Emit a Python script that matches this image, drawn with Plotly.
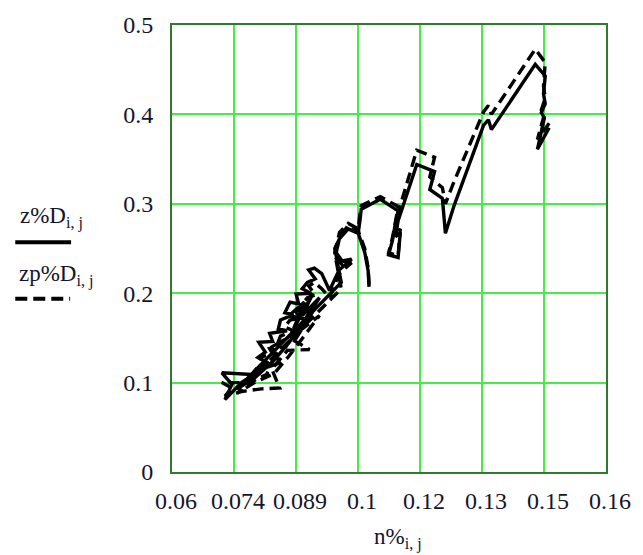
import plotly.graph_objects as go

# n%_{i,j} values shared by both series
n_pct = [
    0.1054, 0.1052, 0.1044, 0.1029, 0.1006, 0.0986, 0.0976, 0.0992, 0.1014, 0.0985,
    0.0963, 0.0945, 0.0928, 0.0915, 0.0930, 0.0912, 0.0900, 0.0920, 0.0886, 0.0892,
    0.0872, 0.0860, 0.0880, 0.0850, 0.0845, 0.0865, 0.0825, 0.0832, 0.0800, 0.0815,
    0.0798, 0.0822, 0.0795, 0.0783, 0.0715, 0.0738, 0.0722,
    0.0760, 0.0806, 0.0848, 0.0830, 0.0866, 0.0917, 0.0870, 0.0905, 0.0880, 0.0925,
    0.0900, 0.0940, 0.0870, 0.0835, 0.0790, 0.0750, 0.0990, 0.0975, 0.0986, 0.1006,
    0.1029, 0.1033, 0.1036, 0.1080, 0.1121, 0.1115, 0.1108, 0.1099, 0.1121, 0.1126,
    0.1115, 0.1121, 0.1164, 0.1205, 0.1194, 0.1223, 0.1230, 0.1250, 0.1318, 0.1329,
    0.1336, 0.1437, 0.1460, 0.1456, 0.1460, 0.1451, 0.1458, 0.1442, 0.1469,
]

# z%D_{i,j}
z_pct_D = [
    0.207, 0.225, 0.246, 0.267, 0.272, 0.261, 0.247, 0.236, 0.238, 0.226,
    0.203, 0.222, 0.228, 0.226, 0.216, 0.212, 0.205, 0.200, 0.199, 0.188,
    0.190, 0.178, 0.176, 0.170, 0.160, 0.158, 0.155, 0.146, 0.145, 0.134,
    0.128, 0.122, 0.116, 0.109, 0.111, 0.098, 0.081,
    0.100, 0.115, 0.122, 0.140, 0.150, 0.170, 0.175, 0.190, 0.160, 0.200,
    0.175, 0.195, 0.145, 0.125, 0.105, 0.093, 0.212, 0.250, 0.261, 0.272,
    0.267, 0.281, 0.294, 0.305, 0.292, 0.279, 0.259, 0.243, 0.240, 0.268,
    0.263, 0.281, 0.344, 0.336, 0.316, 0.306, 0.267, 0.298, 0.388, 0.394,
    0.383, 0.456, 0.443, 0.423, 0.412, 0.402, 0.396, 0.361, 0.385,
]

# zp%D_{i,j}
zp_pct_D = [
    0.210, 0.228, 0.250, 0.270, 0.276, 0.262, 0.240, 0.232, 0.234, 0.222,
    0.195, 0.205, 0.212, 0.208, 0.198, 0.195, 0.188, 0.182, 0.180, 0.172,
    0.170, 0.162, 0.158, 0.152, 0.146, 0.140, 0.138, 0.132, 0.128, 0.122,
    0.115, 0.110, 0.104, 0.100, 0.100, 0.094, 0.085,
    0.090, 0.093, 0.094, 0.115, 0.136, 0.137, 0.150, 0.170, 0.145, 0.180,
    0.160, 0.175, 0.130, 0.110, 0.100, 0.088, 0.205, 0.245, 0.268, 0.278,
    0.272, 0.288, 0.298, 0.308, 0.297, 0.280, 0.262, 0.245, 0.242, 0.272,
    0.266, 0.290, 0.360, 0.352, 0.330, 0.318, 0.300, 0.325, 0.403, 0.410,
    0.400, 0.473, 0.458, 0.432, 0.418, 0.405, 0.400, 0.372, 0.390,
]

x_tick_vals = [0.06 + k * 0.1 / 7 for k in range(8)]
x_tick_text = ["0.06", "0.074", "0.089", "0.1", "0.12", "0.13", "0.15", "0.16"]
y_tick_vals = [0.0, 0.1, 0.2, 0.3, 0.4, 0.5]
y_tick_text = ["0", "0.1", "0.2", "0.3", "0.4", "0.5"]

W, H = 643, 555
ML, MR, MT, MB = 172, 28, 15, 83
PW, PH = W - ML - MR, H - MT - MB

SERIF = "Liberation Serif"
TXT = "#15152a"
GRID = "#44ee44"
FRAME = "#2f7a2f"


def px(xp):
    return (xp - ML) / PW


def py(yp):
    return (H - MB - yp) / PH


fig = go.Figure()
fig.add_trace(go.Scatter(
    x=n_pct, y=zp_pct_D, mode="lines", name="zp%D",
    line=dict(color="black", width=3.4, dash="11px,6px"),
    showlegend=False,
))
fig.add_trace(go.Scatter(
    x=n_pct, y=z_pct_D, mode="lines", name="z%D",
    line=dict(color="black", width=3.4),
    showlegend=False,
))

fig.update_xaxes(
    range=[0.06, 0.16], tickvals=x_tick_vals, ticktext=x_tick_text,
    showgrid=True, gridcolor=GRID, gridwidth=2,
    showline=True, linecolor=FRAME, linewidth=2, mirror=True,
    zeroline=False, ticks="", ticklabelstandoff=6, ticklabelshift=4,
    tickfont=dict(family=SERIF, size=24, color=TXT),
)
fig.update_yaxes(
    range=[0, 0.5], tickvals=y_tick_vals, ticktext=y_tick_text,
    showgrid=True, gridcolor=GRID, gridwidth=2,
    showline=True, linecolor=FRAME, linewidth=2, mirror=True,
    zeroline=False, ticks="", ticklabelstandoff=12,
    tickfont=dict(family=SERIF, size=24, color=TXT),
)

annotations = [
    dict(text="n%<sub>i, j</sub>", x=px(403), y=py(540), xref="paper", yref="paper",
         xanchor="center", yanchor="middle", showarrow=False,
         font=dict(family=SERIF, size=23, color=TXT)),
    dict(text="z%D<sub>i, j</sub>", x=px(15), y=py(212), xref="paper", yref="paper",
         xanchor="left", yanchor="middle", showarrow=False,
         font=dict(family=SERIF, size=23, color=TXT)),
    dict(text="zp%D<sub>i, j</sub>", x=px(14), y=py(271), xref="paper", yref="paper",
         xanchor="left", yanchor="middle", showarrow=False,
         font=dict(family=SERIF, size=23, color=TXT)),
]

shapes = [
    dict(type="line", xref="paper", yref="paper", x0=px(12), x1=px(69), y0=py(237), y1=py(237),
         line=dict(color="black", width=4)),
    dict(type="line", xref="paper", yref="paper", x0=px(12), x1=px(68), y0=py(295), y1=py(295),
         line=dict(color="black", width=4, dash="12px,6px")),
]

fig.update_layout(
    width=W, height=H,
    margin=dict(l=ML, r=MR, t=MT, b=MB, pad=0),
    paper_bgcolor="white", plot_bgcolor="white",
    font=dict(family=SERIF, color=TXT),
    annotations=annotations, shapes=shapes,
    showlegend=False,
)

fig.write_html("out.html")
